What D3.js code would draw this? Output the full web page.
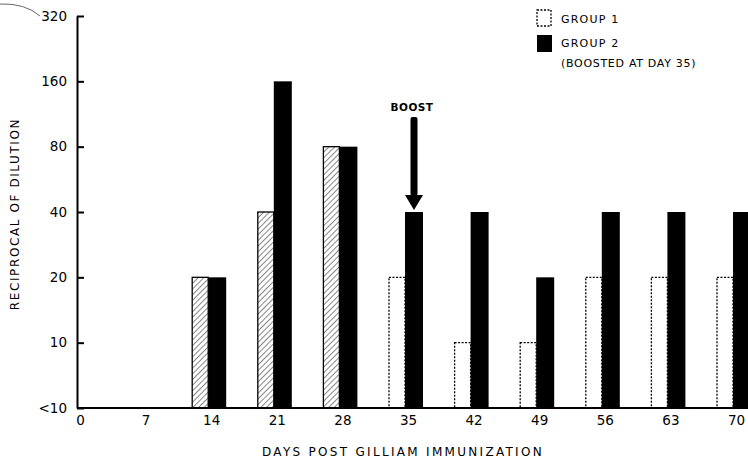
<!DOCTYPE html>
<html>
<head>
<meta charset="utf-8">
<script src="https://d3js.org/d3.v7.min.js"></script>
<style>
  body { margin: 0; background: #fff; }
  text { font-family: "DejaVu Sans", sans-serif; fill: #000; }
</style>
</head>
<body>
<svg id="chart"></svg>
<script>
const width = 748;
const height = 462;

// data (titer 5 stands for "<10")
const days = [0, 7, 14, 21, 28, 35, 42, 49, 56, 63, 70];
const group1 = [5, 5, 20, 40, 80, 20, 10, 10, 20, 20, 20];
const group2 = [5, 5, 20, 160, 80, 40, 40, 20, 40, 40, 40];
const hatched = [false, false, true, true, true, false, false, false, false, false, false];
const yTicks = [5, 10, 20, 40, 80, 160, 320];
const yTickLabels = ['<10', '10', '20', '40', '80', '160', '320'];
const boostDay = 35;

const svg = d3.select('#chart')
  .attr('width', width)
  .attr('height', height);

const defs = svg.append('defs');
const pat = defs.append('pattern')
  .attr('id', 'hatch')
  .attr('patternUnits', 'userSpaceOnUse')
  .attr('width', 4).attr('height', 4)
  .attr('patternTransform', 'rotate(45)');
pat.append('rect').attr('width', 4).attr('height', 4).attr('fill', '#fff');
pat.append('line')
  .attr('x1', 0).attr('y1', 0).attr('x2', 0).attr('y2', 4)
  .attr('stroke', '#444').attr('stroke-width', 1.3);

const x = d3.scaleLinear().domain([0, 70]).range([77, 733]);
const y = d3.scaleLog().base(2).domain([5, 320]).range([408, 16]);
const barW = 16;

// stray scan curve top-left
svg.append('path')
  .attr('d', 'M0,4 Q25,3 40,16')
  .attr('fill', 'none').attr('stroke', '#666').attr('stroke-width', 1);

// bars group 1
svg.selectAll('rect.g1')
  .data(days.map((d, i) => ({ day: d, v: group1[i], h: hatched[i] })).filter(d => d.v > 5))
  .enter().append('rect')
  .attr('class', 'g1')
  .attr('x', d => x(d.day) - barW)
  .attr('y', d => y(d.v))
  .attr('width', barW)
  .attr('height', d => y(5) - y(d.v))
  .attr('fill', d => d.h ? 'url(#hatch)' : '#fff')
  .attr('stroke', '#000')
  .attr('stroke-width', 1.3)
  .attr('stroke-dasharray', d => d.h ? null : '2,1.5');

// bars group 2
svg.selectAll('rect.g2')
  .data(days.map((d, i) => ({ day: d, v: group2[i] })).filter(d => d.v > 5))
  .enter().append('rect')
  .attr('class', 'g2')
  .attr('x', d => x(d.day))
  .attr('y', d => y(d.v))
  .attr('width', barW + 2)
  .attr('height', d => y(5) - y(d.v))
  .attr('fill', '#000');

// y axis
const yAxis = d3.axisLeft(y)
  .tickValues(yTicks)
  .tickFormat((d, i) => yTickLabels[i])
  .tickSizeInner(-7)
  .tickSizeOuter(0)
  .tickPadding(10);
const gy = svg.append('g')
  .attr('transform', `translate(${x(0)},0)`)
  .call(yAxis);
gy.select('.domain').attr('stroke-width', 2);
gy.selectAll('.tick line').attr('stroke-width', 2);
gy.selectAll('.tick text').attr('font-size', 13.5);

// x axis
const xAxis = d3.axisBottom(x)
  .tickValues(days)
  .tickSize(0)
  .tickPadding(7);
const gx = svg.append('g')
  .attr('transform', `translate(0,${y(5)})`)
  .call(xAxis);
gx.select('.domain').attr('stroke-width', 2).attr('d', `M${x(0)},0H${width}`);
gx.selectAll('.tick text').attr('font-size', 13.5).attr('dx', 3);

// axis titles
svg.append('text')
  .attr('transform', 'translate(19,214) rotate(-90)')
  .attr('text-anchor', 'middle')
  .attr('font-size', 12)
  .attr('letter-spacing', 1.6)
  .text('RECIPROCAL OF DILUTION');

svg.append('text')
  .attr('x', 403).attr('y', 456)
  .attr('text-anchor', 'middle')
  .attr('font-size', 12)
  .attr('letter-spacing', 2.3)
  .text('DAYS POST GILLIAM IMMUNIZATION');

// boost arrow
const bx = x(boostDay) + 9;
const arrowTop = 117;
const arrowTip = y(40) - 2;
svg.append('rect')
  .attr('x', bx - 3.5).attr('y', arrowTop)
  .attr('width', 7).attr('height', arrowTip - 14 - arrowTop)
  .attr('rx', 2).attr('fill', '#000');
svg.append('path')
  .attr('d', `M${bx - 9},${arrowTip - 15}L${bx + 9},${arrowTip - 15}L${bx},${arrowTip}Z`)
  .attr('fill', '#000');
svg.append('text')
  .attr('x', bx - 2).attr('y', 111)
  .attr('text-anchor', 'middle')
  .attr('font-size', 10.5)
  .attr('letter-spacing', 0.5)
  .attr('font-weight', 'bold')
  .text('BOOST');

// legend
const lg = svg.append('g').attr('transform', 'translate(537,10)');
lg.append('rect')
  .attr('x', 0).attr('y', 0).attr('width', 14).attr('height', 16)
  .attr('fill', '#fff').attr('stroke', '#000').attr('stroke-width', 1.3)
  .attr('stroke-dasharray', '2,1.5');
lg.append('rect')
  .attr('x', 0).attr('y', 25).attr('width', 15).attr('height', 17)
  .attr('fill', '#000');
lg.append('text').attr('x', 24).attr('y', 13).attr('font-size', 11).attr('letter-spacing', 1.2).text('GROUP 1');
lg.append('text').attr('x', 24).attr('y', 37).attr('font-size', 11).attr('letter-spacing', 1.2).text('GROUP 2');
lg.append('text').attr('x', 24).attr('y', 57).attr('font-size', 11).attr('letter-spacing', 0.7).text('(BOOSTED AT DAY 35)');
</script>
</body>
</html>
